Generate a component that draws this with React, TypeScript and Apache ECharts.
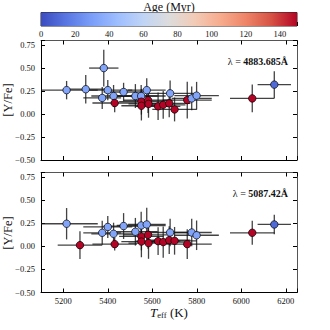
import React, { useEffect, useRef } from "react";
import * as echarts from "echarts";

// ---- data ----
const teff = [5215, 5275, 5301, 5382, 5375, 5400, 5426, 5431, 5471, 5524, 5550, 5575, 5551, 5551, 5581, 5583, 5626, 5649, 5676, 5680, 5700, 5757, 5777, 5799, 6049, 6148];
const ages = [33, 150, 33, 33, 33, 33, 33, 150, 33, 33, 33, 33, 150, 150, 150, 150, 150, 150, 150, 33, 150, 150, 33, 33, 150, 10];
const teffErr = [140, 100, 100, 66, 85, 110, 100, 100, 90, 100, 110, 85, 100, 90, 110, 90, 100, 100, 95, 110, 100, 110, 90, 100, 100, 75];
const yFeTop = [0.26, null, 0.27, 0.5, 0.175, 0.26, 0.196, 0.12, 0.24, 0.196, 0.196, 0.26, 0.134, 0.09, 0.15, 0.11, 0.084, 0.1, 0.116, 0.225, 0.05, 0.152, 0.17, 0.2, 0.17, 0.32];
const yFeTopErr = [0.1, 0, 0.155, 0.2, 0.12, 0.11, 0.12, 0.1, 0.1, 0.13, 0.12, 0.13, 0.14, 0.16, 0.14, 0.15, 0.15, 0.15, 0.15, 0.14, 0.13, 0.2, 0.13, 0.15, 0.15, 0.145];
const yFeBot = [0.245, 0.013, null, null, 0.147, 0.21, 0.136, 0.024, 0.22, 0.158, 0.226, 0.237, 0.107, 0.052, 0.125, 0.035, 0.056, 0.046, 0.067, 0.15, 0.06, 0.024, 0.15, 0.12, 0.147, 0.237];
const yFeBotErr = [0.17, 0.15, 0, 0, 0.13, 0.12, 0.12, 0.07, 0.14, 0.15, 0.15, 0.18, 0.15, 0.17, 0.15, 0.17, 0.15, 0.17, 0.15, 0.15, 0.15, 0.16, 0.15, 0.16, 0.13, 0.105];
const lineTop = "4883.685Å";
const lineBot = "5087.42Å";
const ageTicks = [0, 20, 40, 60, 80, 100, 120, 140];
const coolwarm = ["#3b4cc0", "#5977e3", "#7b9ff9", "#9ebeff", "#c0d4f5", "#dddcdc", "#f2cbb7", "#f7ac8e", "#ee8468", "#d65244", "#b40426"];

const FONT = "'Liberation Serif', 'DejaVu Serif', serif";
const TEXT = "#111";

function errData(ys: (number | null)[], yerr: number[]) {
  const out: number[][] = [];
  ys.forEach((y, i) => {
    if (y !== null) out.push([teff[i], y, teffErr[i], yerr[i]]);
  });
  return out;
}
function ptData(ys: (number | null)[]) {
  const out: number[][] = [];
  ys.forEach((y, i) => {
    if (y !== null) out.push([teff[i], y, ages[i]]);
  });
  return out;
}

function errRender(params: any, api: any) {
  const x = api.value(0), y = api.value(1), xe = api.value(2), ye = api.value(3);
  const cs = params.coordSys;
  const cx = (v: number) => Math.max(cs.x, Math.min(cs.x + cs.width, v));
  const cy = (v: number) => Math.max(cs.y, Math.min(cs.y + cs.height, v));
  const c = api.coord([x, y]);
  const l = api.coord([x - xe, y]);
  const r = api.coord([x + xe, y]);
  const t = api.coord([x, y + ye]);
  const b = api.coord([x, y - ye]);
  const style = { stroke: "rgba(20,20,20,0.8)", lineWidth: 1.3 };
  return {
    type: "group",
    children: [
      { type: "line", shape: { x1: cx(l[0]), y1: c[1], x2: cx(r[0]), y2: c[1] }, style },
      { type: "line", shape: { x1: c[0], y1: cy(t[1]), x2: c[0], y2: cy(b[1]) }, style },
    ],
  };
}

function barRender(params: any, api: any) {
  const p0 = api.coord([0, 0]);
  const p1 = api.coord([150, 1]);
  const stops = coolwarm.map((c, i) => ({ offset: i / (coolwarm.length - 1), color: c }));
  return {
    type: "rect",
    shape: { x: p0[0], y: p1[1], width: p1[0] - p0[0], height: p0[1] - p1[1] },
    style: { fill: { type: "linear", x: 0, y: 0, x2: 1, y2: 0, colorStops: stops } },
  };
}

const yFmt = (v: number) => (Math.abs(v - 0.8) < 1e-6 ? "" : v.toFixed(2).replace("-", "\u2212"));
const xFmt = (v: number) => (Math.round(v) % 200 === 0 ? String(Math.round(v)) : "");

function panelAxes(gridIndex: number, showXLabels: boolean) {
  const tick = { inside: true, length: 4, lineStyle: { color: "#000", width: 1 } };
  const xs = [
    {
      type: "value", gridIndex, position: "bottom", min: 5100, max: 6250, splitNumber: 5, minInterval: 200, maxInterval: 200,
      axisLine: { show: true, onZero: false, lineStyle: { color: "#000", width: 1 } }, axisTick: tick, splitLine: { show: false },
      axisLabel: { show: showXLabels, formatter: xFmt, fontFamily: FONT, fontSize: 8.5, color: TEXT, margin: 4 },
    },
    {
      type: "value", gridIndex, position: "top", min: 5100, max: 6250, splitNumber: 5, minInterval: 200, maxInterval: 200,
      axisLine: { show: true, onZero: false, lineStyle: { color: "#555", width: 1 } }, axisTick: tick, splitLine: { show: false },
      axisLabel: { show: false },
    },
  ];
  const ys = [
    {
      type: "value", gridIndex, position: "left", min: -0.5, max: 0.8, interval: 0.25,
      axisLine: { show: true, onZero: false, lineStyle: { color: "#000", width: 1 } }, axisTick: tick, splitLine: { show: false },
      axisLabel: { formatter: yFmt, fontFamily: FONT, fontSize: 8.5, color: TEXT, margin: 6 },
    },
    {
      type: "value", gridIndex, position: "right", min: -0.5, max: 0.8, interval: 0.25,
      axisLine: { show: true, onZero: false, lineStyle: { color: "#555", width: 1 } }, axisTick: tick, splitLine: { show: false },
      axisLabel: { show: false },
    },
  ];
  return { xs, ys };
}

export default function App() {
  const ref = useRef<HTMLDivElement>(null);
  useEffect(() => {
    if (!ref.current) return;
    const chart = echarts.init(ref.current, null, { renderer: "svg" });
    const top = panelAxes(1, false);
    const bot = panelAxes(2, true);
    const option: any = {
      animation: false,
      backgroundColor: "#fff",
      grid: [
        { left: 41, top: 12.5, width: 256, height: 13.5, show: true, borderColor: "#222", borderWidth: 1, backgroundColor: "transparent" },
        { left: 41, top: 40.5, width: 256, height: 119.5 },
        { left: 41, top: 172.5, width: 256, height: 120 },
      ],
      xAxis: [
        {
          type: "value", gridIndex: 0, min: 0, max: 150, interval: 20, position: "bottom",
          axisLine: { show: false, onZero: false }, splitLine: { show: false },
          axisTick: { inside: true, length: 4, lineStyle: { color: "#000", width: 1 } },
          axisLabel: { formatter: (v: number) => (ageTicks.includes(v) ? String(v) : ""), fontFamily: FONT, fontSize: 8.5, color: TEXT, margin: 3 },
        },
        ...top.xs,
        ...bot.xs,
      ],
      yAxis: [
        { type: "value", gridIndex: 0, min: 0, max: 1, show: false },
        ...top.ys,
        ...bot.ys,
      ],
      visualMap: {
        show: false, type: "continuous", min: 0, max: 150, dimension: 2, seriesIndex: [2, 4],
        inRange: { color: coolwarm },
      },
      series: [
        { type: "custom", xAxisIndex: 0, yAxisIndex: 0, data: [[0, 0]], renderItem: barRender, silent: true },
        { type: "custom", xAxisIndex: 1, yAxisIndex: 1, data: errData(yFeTop, yFeTopErr), renderItem: errRender, silent: true },
        {
          type: "scatter", xAxisIndex: 1, yAxisIndex: 1, data: ptData(yFeTop), symbolSize: 7.5,
          itemStyle: { borderColor: "#000", borderWidth: 0.7, opacity: 1 },
        },
        { type: "custom", xAxisIndex: 3, yAxisIndex: 3, data: errData(yFeBot, yFeBotErr), renderItem: errRender, silent: true },
        {
          type: "scatter", xAxisIndex: 3, yAxisIndex: 3, data: ptData(yFeBot), symbolSize: 7.5,
          itemStyle: { borderColor: "#000", borderWidth: 0.7, opacity: 1 },
        },
      ],
      graphic: [
        { type: "text", x: 169, y: 7, style: { text: "Age (Myr)", fontFamily: FONT, fontSize: 12, fill: TEXT, align: "center", verticalAlign: "middle" } },
        { type: "text", x: 8, y: 100, rotation: Math.PI / 2, style: { text: "[Y/Fe]", fontFamily: FONT, fontSize: 12.5, fill: TEXT, align: "center", verticalAlign: "middle" } },
        { type: "text", x: 8, y: 233, rotation: Math.PI / 2, style: { text: "[Y/Fe]", fontFamily: FONT, fontSize: 12.5, fill: TEXT, align: "center", verticalAlign: "middle" } },
        {
          type: "text", x: 169, y: 312,
          style: {
            text: "{t|T}{s|eff} {n|(K)}", align: "center", verticalAlign: "middle",
            rich: {
              t: { fontFamily: FONT, fontSize: 13, fontStyle: "italic", fill: TEXT, color: TEXT },
              s: { fontFamily: FONT, fontSize: 8.5, fill: TEXT, color: TEXT, padding: [6, 0, 0, 0] },
              n: { fontFamily: FONT, fontSize: 13, fill: TEXT, color: TEXT },
            },
          },
        },
        {
          type: "text", x: 288, y: 61,
          style: {
            text: "{n|\u03bb = }{b|" + lineTop + "}", align: "right", verticalAlign: "middle",
            rich: {
              n: { fontFamily: FONT, fontSize: 10, fill: TEXT, color: TEXT },
              b: { fontFamily: FONT, fontSize: 10, fontWeight: "bold", fill: TEXT, color: TEXT },
            },
          },
        },
        {
          type: "text", x: 288, y: 193,
          style: {
            text: "{n|\u03bb = }{b|" + lineBot + "}", align: "right", verticalAlign: "middle",
            rich: {
              n: { fontFamily: FONT, fontSize: 10, fill: TEXT, color: TEXT },
              b: { fontFamily: FONT, fontSize: 10, fontWeight: "bold", fill: TEXT, color: TEXT },
            },
          },
        },
      ],
    };
    chart.setOption(option);
    return () => chart.dispose();
  }, []);
  return <div ref={ref} style={{ width: 330, height: 330, position: "absolute", left: 0, top: 0 }} />;
}
